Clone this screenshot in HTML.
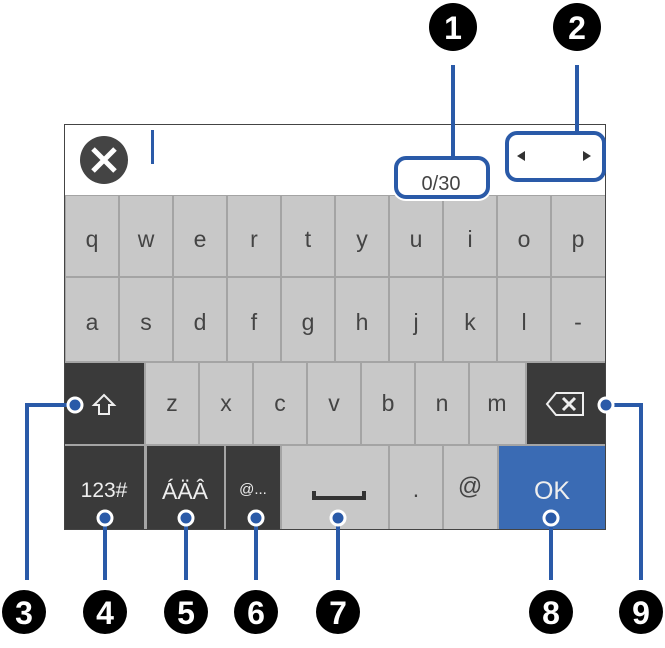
<!DOCTYPE html>
<html><head><meta charset="utf-8"><style>
body{margin:0;background:#fff;}
svg text{font-family:"Liberation Sans",sans-serif;}
</style></head><body>
<svg width="665" height="643" viewBox="0 0 665 643" xmlns="http://www.w3.org/2000/svg">
<rect x="64" y="124" width="542" height="406" fill="#444"/>
<rect x="65" y="195" width="540" height="334" fill="#a4a4a4"/>
<rect x="65" y="125" width="540" height="70" fill="#fff"/>
<circle cx="104" cy="160" r="24" fill="#444"/>
<path d="M93 149 L115 171 M115 149 L93 171" stroke="#fff" stroke-width="5"/>
<rect x="151" y="130" width="3" height="34" fill="#2a5aa8"/>
<g fill="#c8c8c8">
<rect x="66" y="196" width="52" height="80"/><rect x="120" y="196" width="52" height="80"/><rect x="174" y="196" width="52" height="80"/><rect x="228" y="196" width="52" height="80"/><rect x="282" y="196" width="52" height="80"/><rect x="336" y="196" width="52" height="80"/><rect x="390" y="196" width="52" height="80"/><rect x="444" y="196" width="52" height="80"/><rect x="498" y="196" width="52" height="80"/><rect x="552" y="196" width="53" height="80"/>
<rect x="66" y="278" width="52" height="83"/><rect x="120" y="278" width="52" height="83"/><rect x="174" y="278" width="52" height="83"/><rect x="228" y="278" width="52" height="83"/><rect x="282" y="278" width="52" height="83"/><rect x="336" y="278" width="52" height="83"/><rect x="390" y="278" width="52" height="83"/><rect x="444" y="278" width="52" height="83"/><rect x="498" y="278" width="52" height="83"/><rect x="552" y="278" width="53" height="83"/>
<rect x="146" y="363" width="52" height="81"/><rect x="200" y="363" width="52" height="81"/><rect x="254" y="363" width="52" height="81"/><rect x="308" y="363" width="52" height="81"/><rect x="362" y="363" width="52" height="81"/><rect x="416" y="363" width="52" height="81"/><rect x="470" y="363" width="55" height="81"/>
<rect x="282" y="446" width="106" height="83"/><rect x="390" y="446" width="52" height="83"/><rect x="444" y="446" width="53" height="83"/>
</g>
<g fill="#3a3a3a">
<rect x="65" y="363" width="79" height="81"/><rect x="527" y="363" width="78" height="81"/>
<rect x="65" y="446" width="79" height="83"/><rect x="147" y="446" width="77" height="83"/><rect x="226" y="446" width="54" height="83"/>
</g>
<rect x="499" y="446" width="106" height="83" fill="#3a6bb4"/>
<g font-size="23" fill="#444" text-anchor="middle">
<text x="92" y="247">q</text><text x="146" y="247">w</text><text x="200" y="247">e</text><text x="254" y="247">r</text><text x="308" y="247">t</text><text x="362" y="247">y</text><text x="416" y="247">u</text><text x="470" y="247">i</text><text x="524" y="247">o</text><text x="578" y="247">p</text>
<text x="92" y="330">a</text><text x="146" y="330">s</text><text x="200" y="330">d</text><text x="254" y="330">f</text><text x="308" y="330">g</text><text x="362" y="330">h</text><text x="416" y="330">j</text><text x="470" y="330">k</text><text x="524" y="330">l</text><text x="578" y="330">-</text>
<text x="172" y="411">z</text><text x="226" y="411">x</text><text x="280" y="411">c</text><text x="334" y="411">v</text><text x="388" y="411">b</text><text x="442" y="411">n</text><text x="497" y="411">m</text>
<text x="416" y="497">.</text><text x="470" y="494" font-size="24">@</text>
<text x="441" y="190" font-size="20">0/30</text>
</g>
<g fill="#eee" text-anchor="middle">
<text x="104" y="497" font-size="21">123#</text>
<text x="185" y="499" font-size="23">ÁÄÂ</text>
<text x="253" y="494" font-size="15">@...</text>
<text x="552" y="499" font-size="25">OK</text>
</g>
<path d="M314 491 V498 H364 V491" stroke="#333" stroke-width="4" fill="none"/>
<path d="M104 395 L114 405 H109 V414 H99 V405 H94 Z" fill="none" stroke="#eee" stroke-width="2"/>
<path d="M547 404 L556 393 H583 V415 H556 Z" fill="none" stroke="#eee" stroke-width="2"/>
<path d="M563 398 L575 410 M575 398 L563 410" stroke="#eee" stroke-width="3"/>
<path d="M517 156 L525 151 V161 Z M583 151 L591 156 L583 161 Z" fill="#333"/>
<g stroke="#2a5aa8" stroke-width="4" fill="none">
<rect x="396" y="158" width="92" height="39" rx="10" stroke="#fff" stroke-width="8"/>
<rect x="396" y="158" width="92" height="39" rx="10"/>
<rect x="507" y="133" width="97" height="47" rx="10"/>
<path d="M453 65 V158 M577 65 V133"/>
<path d="M75 405 H27 V580 M105 518 V580 M186 518 V580 M256 518 V580 M338 518 V580 M551 518 V580 M606 405 H641 V580"/>
</g>
<g fill="#2a5aa8" stroke="#fff" stroke-width="3">
<circle cx="75" cy="405" r="7"/><circle cx="105" cy="518" r="7"/><circle cx="186" cy="518" r="7"/><circle cx="256" cy="518" r="7"/><circle cx="338" cy="518" r="7"/><circle cx="551" cy="518" r="7"/><circle cx="606" cy="405" r="7"/>
</g>
<g fill="#000"><circle cx="453" cy="27" r="24"/><circle cx="577" cy="27" r="24"/>
<circle cx="24" cy="612" r="22"/><circle cx="105" cy="612" r="22"/><circle cx="186" cy="612" r="22"/><circle cx="256" cy="612" r="22"/><circle cx="338" cy="612" r="22"/><circle cx="551" cy="612" r="22"/><circle cx="641" cy="612" r="22"/></g>
<g fill="#fff" font-size="32" font-weight="bold" text-anchor="middle">
<text x="453" y="39">1</text><text x="577" y="39">2</text>
<text x="24" y="624">3</text><text x="105" y="624">4</text><text x="186" y="624">5</text><text x="256" y="624">6</text><text x="338" y="624">7</text><text x="551" y="624">8</text><text x="641" y="624">9</text>
</g>
</svg>
</body></html>
